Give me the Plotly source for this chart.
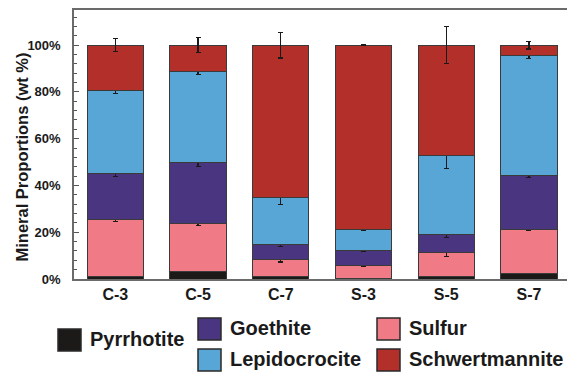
import plotly.graph_objects as go

# ---- data ----
samples = ["C-3", "C-5", "C-7", "S-3", "S-5", "S-7"]
pyrrhotite = [1.0, 3.0, 1.0, 0.3, 1.0, 2.4]
sulfur = [24.6, 20.8, 7.5, 5.3, 10.3, 18.8]
goethite = [19.3, 25.8, 6.3, 6.4, 7.9, 23.2]
lepidocrocite = [35.9, 39.3, 20.0, 9.0, 33.4, 51.3]
schwertmannite = [19.2, 11.1, 65.2, 79.0, 47.4, 4.3]

err_pyrrhotite = [0.3, 0.3, 0.3, 0.0, 0.3, 0.3]
err_sulfur = [1.0, 1.0, 1.2, 0.3, 1.8, 0.6]
err_goethite = [1.0, 1.4, 1.0, 0.3, 1.5, 1.0]
err_lepidocrocite = [1.5, 1.4, 3.0, 0.3, 5.2, 1.3]
err_schwertmannite = [2.9, 3.1, 5.5, 0.3, 8.0, 1.7]

ytick_vals = [0, 20, 40, 60, 80, 100]
ytick_text = ["0%", "20%", "40%", "60%", "80%", "100%"]

series = [
    ("Pyrrhotite", pyrrhotite, err_pyrrhotite, "#1c1a18"),
    ("Sulfur", sulfur, err_sulfur, "#f07b87"),
    ("Goethite", goethite, err_goethite, "#4a3581"),
    ("Lepidocrocite", lepidocrocite, err_lepidocrocite, "#58a6d5"),
    ("Schwertmannite", schwertmannite, err_schwertmannite, "#b22f2a"),
]

FONT = "Liberation Sans, Arial, sans-serif"
TXT = "#1a1a1a"

fig = go.Figure()
for name, vals, errs, color in series:
    fig.add_trace(go.Bar(
        name=name, x=samples, y=vals,
        marker=dict(color=color, line=dict(color="#3a3a3a", width=1)),
        error_y=dict(type="data", array=errs, visible=True,
                     color="#1a1a1a", thickness=1.2, width=2.5),
        width=0.68, showlegend=False,
    ))

W, H = 567, 372
ML, MR, MT, MB = 74, 0, 10, 93
pw, ph = W - ML - MR, H - MT - MB

def px(x):
    return (x - ML) / pw

def py(y):
    return (H - MB - y) / ph

# manual legend (squares + labels)
legend_items = [
    ("Pyrrhotite", "#1c1a18", 58, 329),
    ("Goethite", "#4a3581", 198, 318),
    ("Lepidocrocite", "#58a6d5", 198, 349),
    ("Sulfur", "#f07b87", 377, 318),
    ("Schwertmannite", "#b22f2a", 377, 349),
]
shapes = []
annotations = []
for label, color, x0, y0 in legend_items:
    shapes.append(dict(type="rect", xref="paper", yref="paper",
                       x0=px(x0), x1=px(x0 + 23), y0=py(y0), y1=py(y0 + 22),
                       fillcolor=color, line=dict(color="#2a2a2a", width=1.5)))
    annotations.append(dict(text=label, xref="paper", yref="paper",
                            x=px(x0 + 30), y=py(y0 + 10), xanchor="left", yanchor="middle",
                            showarrow=False,
                            font=dict(family=FONT, size=20, color=TXT, weight="bold")))

# y-axis title
annotations.append(dict(text="Mineral Proportions (wt %)", xref="paper", yref="paper",
                        x=px(21.5), y=py(157), xanchor="center", yanchor="middle",
                        textangle=-90, showarrow=False,
                        font=dict(family=FONT, size=16.5, color=TXT, weight="bold")))

fig.update_layout(
    width=W, height=H,
    margin=dict(l=ML, r=MR, t=MT, b=MB),
    barmode="stack", bargap=0.32,
    plot_bgcolor="white", paper_bgcolor="white",
    shapes=shapes, annotations=annotations,
    xaxis=dict(range=[-0.5, 5.46], showline=True, linecolor="#6a6a6a", linewidth=1.5,
               mirror=True, ticks="", showgrid=False, zeroline=False,
               tickfont=dict(family=FONT, size=16, color=TXT, weight="bold"),
               ticklabelstandoff=0),
    yaxis=dict(range=[0, 115], showline=True, linecolor="#6a6a6a", linewidth=1.5,
               mirror=False, showgrid=False, zeroline=False,
               tickmode="array", tickvals=ytick_vals, ticktext=ytick_text,
               ticks="inside", ticklen=5, tickcolor="#555", tickwidth=1,
               minor=dict(tickmode="linear", tick0=0, dtick=4, ticks="inside",
                          ticklen=3, tickcolor="#555", tickwidth=1),
               tickfont=dict(family=FONT, size=13, color=TXT, weight="bold"),
               ticklabelstandoff=9),
)

fig.write_html("out.html", config={"displayModeBar": False},
               post_script="document.body.style.margin='0';document.body.style.overflow='hidden';")
